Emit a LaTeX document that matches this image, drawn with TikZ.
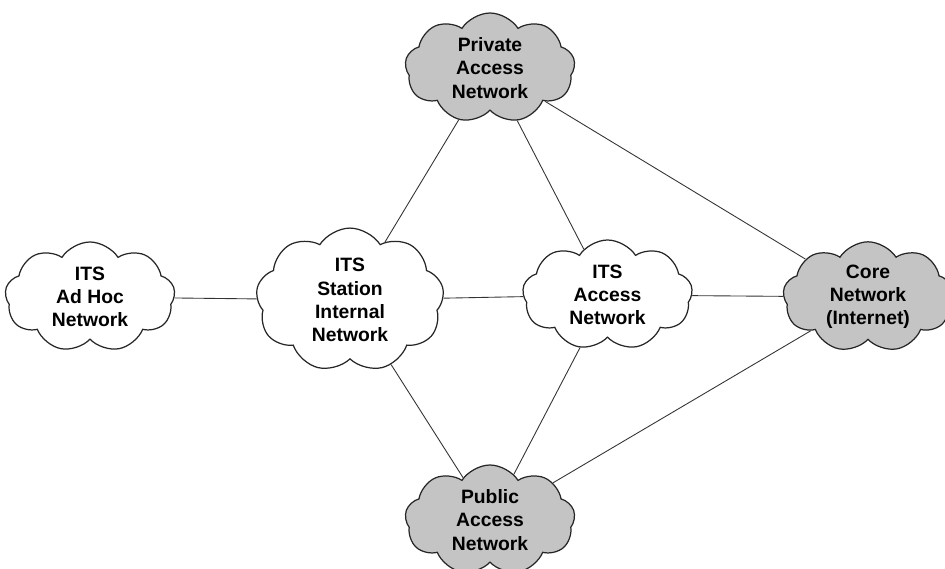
\documentclass[tikz,border=0pt]{standalone}
\usepackage{fontspec}
\setmainfont{Liberation Sans}
\usetikzlibrary{shapes.symbols}
\begin{document}
\begin{tikzpicture}[
    net/.style={cloud, cloud puffs=9, cloud puff arc=115, aspect=1.5,
        draw=black!85, line width=0.7pt, fill=white, align=center,
        minimum width=3.4cm, minimum height=2.2cm, inner sep=0pt,
        font=\fontsize{11}{13.2}\selectfont\bfseries},
    gnet/.style={net, fill=black!23},
    link/.style={draw=black!80, line width=0.5pt}
]
    \useasboundingbox (0,0) rectangle (18.9,-11.38);
    % Clouds
    \node[net]  (adhoc)   at (1.8,-5.94)   {ITS\\Ad Hoc\\Network};
    \node[net]  (station) at (7.0,-6.0)    {ITS\\Station\\Internal\\Network};
    \node[net]  (access)  at (12.15,-5.9)  {ITS\\Access\\Network};
    \node[gnet] (private) at (9.8,-1.36)   {Private\\Access\\Network};
    \node[gnet] (core)    at (17.36,-5.94) {Core\\Network\\(Internet)};
    \node[gnet] (public)  at (9.8,-10.4)   {Public\\Access\\Network};
    % Links
    \draw[link] (adhoc) -- (station);
    \draw[link] (station) -- (access);
    \draw[link] (access) -- (core);
    \draw[link] (private) -- (station);
    \draw[link] (private) -- (access);
    \draw[link] (private) -- (core);
    \draw[link] (public) -- (station);
    \draw[link] (public) -- (access);
    \draw[link] (public) -- (core);
\end{tikzpicture}
\end{document}
